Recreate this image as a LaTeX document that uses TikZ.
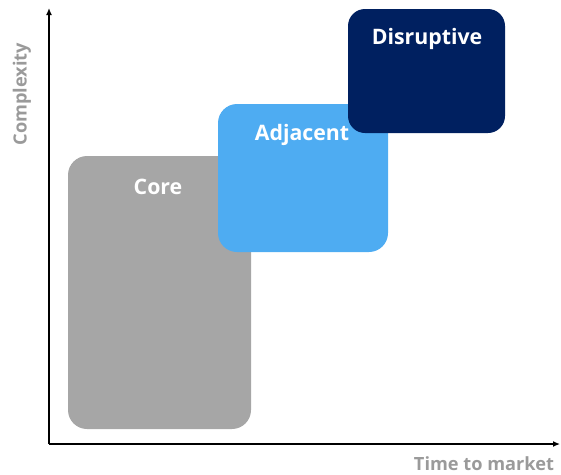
\documentclass[tikz,border=0pt]{standalone}
\usepackage{fontspec}
\setmainfont{Open Sans}
\usetikzlibrary{arrows.meta}
\definecolor{coregray}{HTML}{A6A6A6}
\definecolor{adjblue}{HTML}{4EACF2}
\definecolor{disnavy}{HTML}{002060}
\definecolor{axislabel}{HTML}{9A9A9A}
\tikzset{
  box/.style={draw=none, rounded corners=19pt, inner sep=0pt, anchor=center},
  boxlabel/.style={text=white, font=\bfseries\fontsize{21.3}{24}\selectfont, inner sep=0pt, anchor=center},
  axislbl/.style={text=axislabel, font=\bfseries\fontsize{18.2}{20}\selectfont, inner sep=0pt},
  axisline/.style={line width=1.3pt, -{Latex[length=7pt,width=6pt]}}
}
\begin{document}
\begin{tikzpicture}[x=1pt,y=-1pt]
\useasboundingbox (0,0) rectangle (561,474);
\coordinate (o) at (49,444);
\coordinate (ytop) at (49,8);
\coordinate (xend) at (560,444);
\draw[axisline] (o) -- (ytop);
\draw[axisline] (o) -- (xend);
\node[box, fill=coregray, minimum width=183pt, minimum height=273pt] (core) at (159.5,292.5) {};
\node[box, fill=adjblue, minimum width=170pt, minimum height=148pt] (adj) at (303,178) {};
\node[box, fill=disnavy, rounded corners=17pt, minimum width=157pt, minimum height=124pt] (dis) at (426.5,71) {};
\node[boxlabel] (corelbl) at (158,187) {Core};
\node[boxlabel] (adjlbl) at (302,135) {Adjacent};
\node[boxlabel] (dislbl) at (427,39) {Disruptive};
\node[axislbl, rotate=90] (ylbl) at (22,94) {Complexity};
\node[axislbl] (xlbl) at (484,464) {Time to market};
\end{tikzpicture}
\end{document}
